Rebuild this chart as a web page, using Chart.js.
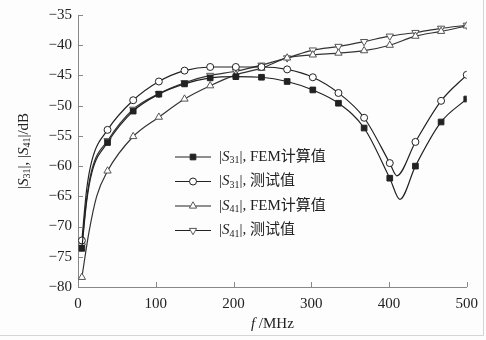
<!DOCTYPE html>
<html>
<head>
<meta charset="utf-8">
<script src="https://cdn.jsdelivr.net/npm/chart.js@4"></script>
<style>
  html, body { margin: 0; padding: 0; background: #fdfdfd; }
  #wrap { width: 486px; height: 340px; position: relative; }
</style>
</head>
<body>
<div id="wrap"><canvas id="mainChart" width="486" height="340"></canvas></div>
<script>
// === Data ===
const freqs = [5, 38, 71, 104, 137, 170, 203, 236, 269, 302, 335, 368, 401, 434, 467, 500];
const s31Fem  = [-73.6, -56.1, -50.9, -48.1, -46.4, -45.4, -45.2, -45.3, -46.0, -47.4, -49.6, -53.7, -62.0, -60.0, -52.7, -48.9];
const s31Test = [-72.3, -54.0, -49.1, -46.0, -44.2, -43.6, -43.6, -43.6, -44.0, -45.3, -47.9, -52.0, -59.5, -56.0, -49.2, -44.9];
const s41Fem  = [-78.4, -60.8, -55.1, -51.9, -48.9, -46.7, -44.9, -43.8, -42.1, -41.6, -41.3, -40.9, -40.0, -38.5, -37.7, -36.8];
const s41Test = [-73.2, -55.8, -50.6, -48.0, -46.2, -45.0, -44.3, -43.3, -42.1, -40.8, -40.2, -39.4, -38.5, -37.9, -37.2, -36.7];

// curve points between markers (no marker drawn): steep start and notch bottom
const s31FemExtra  = [{ f: 11, v: -66.0 }, { f: 18, v: -61.0 }, { f: 414, v: -65.5 }];
const s31TestExtra = [{ f: 11, v: -64.0 }, { f: 18, v: -59.0 }, { f: 410, v: -61.6 }];
const s41FemExtra  = [{ f: 14, v: -71.0 }, { f: 24, v: -65.0 }];
const s41TestExtra = [{ f: 11, v: -65.5 }, { f: 18, v: -60.5 }];

const xTicks = [0, 100, 200, 300, 400, 500];
const yTicks = [-80, -75, -70, -65, -60, -55, -50, -45, -40, -35];

const legendRows = [
  { sub: "31", text: ", FEM计算值" },
  { sub: "31", text: ", 测试值" },
  { sub: "41", text: ", FEM计算值" },
  { sub: "41", text: ", 测试值" }
];

const SERIF = '"Liberation Serif", "DejaVu Serif", "Noto Sans CJK SC", serif';
const INK = "#222";

function toPoints(values, extra) {
  const pts = freqs.map((f, i) => ({ x: f, y: values[i], marker: true }));
  extra.forEach(e => pts.push({ x: e.f, y: e.v, marker: false }));
  pts.sort((a, b) => a.x - b.x);
  return pts;
}

const p31f = toPoints(s31Fem, s31FemExtra);
const p31t = toPoints(s31Test, s31TestExtra);
const p41f = toPoints(s41Fem, s41FemExtra);
const p41t = toPoints(s41Test, s41TestExtra);

const styles = [
  { pointStyle: "rect", rotation: 0, radius: 4, fill: INK },
  { pointStyle: "circle", rotation: 0, radius: 3.5, fill: "#fff" },
  { pointStyle: "triangle", rotation: 0, radius: 4.2, fill: "#fff" },
  { pointStyle: "triangle", rotation: 180, radius: 4.2, fill: "#fff" }
];

// draw "|S31|, ..." style text with italic S and subscript digits
function drawRich(ctx, parts, x, y, size) {
  let cx = x;
  parts.forEach(p => {
    const fs = p.sub ? Math.round(size * 0.65) : size;
    ctx.font = (p.italic ? "italic " : "") + fs + "px " + SERIF;
    ctx.fillText(p.t, cx, y + (p.sub ? size * 0.25 : 0));
    cx += ctx.measureText(p.t).width;
  });
  return cx - x;
}

function richWidth(ctx, parts, size) {
  let w = 0;
  parts.forEach(p => {
    const fs = p.sub ? Math.round(size * 0.65) : size;
    ctx.font = (p.italic ? "italic " : "") + fs + "px " + SERIF;
    w += ctx.measureText(p.t).width;
  });
  return w;
}

const decorations = {
  id: "decorations",
  afterDraw(chart) {
    const ctx = chart.ctx;
    const xs = chart.scales.x, ys = chart.scales.y;
    const area = chart.chartArea;
    ctx.save();

    // inward tick marks
    ctx.strokeStyle = "#888";
    ctx.lineWidth = 1;
    ctx.beginPath();
    xTicks.forEach(v => {
      const px = Math.round(xs.getPixelForValue(v)) + 0.5;
      ctx.moveTo(px, area.bottom);
      ctx.lineTo(px, area.bottom - 5);
    });
    yTicks.forEach(v => {
      const py = Math.round(ys.getPixelForValue(v)) + 0.5;
      ctx.moveTo(area.left, py);
      ctx.lineTo(area.left + 5, py);
    });
    ctx.stroke();

    ctx.fillStyle = INK;
    ctx.textBaseline = "middle";

    // y axis title
    const yParts = [
      { t: "|" }, { t: "S", italic: true }, { t: "31", sub: true },
      { t: "|, |" }, { t: "S", italic: true }, { t: "41", sub: true }, { t: "|/dB" }
    ];
    ctx.save();
    ctx.translate(24, (area.top + area.bottom) / 2);
    ctx.rotate(-Math.PI / 2);
    const yw = richWidth(ctx, yParts, 15);
    drawRich(ctx, yParts, -yw / 2, 0, 15);
    ctx.restore();

    // x axis title
    const xParts = [{ t: "f", italic: true }, { t: " /MHz" }];
    const xw = richWidth(ctx, xParts, 15);
    drawRich(ctx, xParts, (area.left + area.right) / 2 - xw / 2, 324, 15);

    // legend
    const lx0 = 175, lx1 = 211, tx = 219;
    legendRows.forEach((row, i) => {
      const y = 157 + i * 24.5;
      ctx.strokeStyle = INK;
      ctx.lineWidth = 1.2;
      ctx.beginPath();
      ctx.moveTo(lx0, y);
      ctx.lineTo(lx1, y);
      ctx.stroke();
      const st = styles[i];
      ctx.fillStyle = st.fill;
      ctx.strokeStyle = i >= 2 ? "#555" : INK;
      ctx.lineWidth = 1;
      Chart.helpers.drawPoint(ctx, {
        pointStyle: st.pointStyle, rotation: st.rotation, radius: st.radius, borderWidth: 1
      }, (lx0 + lx1) / 2, y);
      ctx.fillStyle = INK;
      drawRich(ctx, [
        { t: "|" }, { t: "S", italic: true }, { t: row.sub, sub: true }, { t: "|" + row.text }
      ], tx, y, 15);
    });

    // light frame round the figure
    ctx.strokeStyle = "#d4d4d4";
    ctx.lineWidth = 1;
    ctx.beginPath();
    ctx.moveTo(0, 335.5);
    ctx.lineTo(483.5, 335.5);
    ctx.lineTo(483.5, 0);
    ctx.stroke();

    ctx.restore();
  }
};

const makeSet = (label, points, i) => ({
  label: label,
  data: points,
  borderColor: i >= 2 ? "#333" : INK,
  borderWidth: 1.2,
  backgroundColor: styles[i].fill,
  pointBackgroundColor: styles[i].fill,
  pointBorderColor: i >= 2 ? "#555" : INK,
  pointBorderWidth: 1,
  pointStyle: styles[i].pointStyle,
  pointRotation: styles[i].rotation,
  pointRadius: points.map(p => (p.marker ? styles[i].radius : 0)),
  cubicInterpolationMode: "monotone",
  fill: false
});

const ctx = document.getElementById("mainChart");
new Chart(ctx.getContext("2d"), {
  type: "line",
  data: {
    datasets: [
      makeSet("|S31|, FEM计算值", p31f, 0),
      makeSet("|S31|, 测试值", p31t, 1),
      makeSet("|S41|, FEM计算值", p41f, 2),
      makeSet("|S41|, 测试值", p41t, 3)
    ]
  },
  options: {
    responsive: false,
    animation: false,
    layout: { padding: { left: 0, top: 15, right: 18, bottom: 0 } },
    plugins: {
      legend: { display: false },
      tooltip: { enabled: false },
      title: { display: false }
    },
    scales: {
      x: {
        type: "linear",
        min: 0,
        max: 500,
        afterBuildTicks: scale => { scale.ticks = xTicks.map(v => ({ value: v })); },
        afterFit: scale => { scale.height = 53; },
        grid: { display: false, drawTicks: false },
        border: { display: true, color: "#888", width: 1 },
        ticks: { color: INK, padding: 8, maxRotation: 0, font: { family: SERIF, size: 15 } }
      },
      y: {
        type: "linear",
        min: -80,
        max: -35,
        afterBuildTicks: scale => { scale.ticks = yTicks.map(v => ({ value: v })); },
        afterFit: scale => { scale.width = 78; },
        grid: { display: false, drawTicks: false },
        border: { display: true, color: "#888", width: 1 },
        ticks: {
          color: INK,
          padding: 6,
          font: { family: SERIF, size: 15 },
          callback: v => String(v).replace("-", "\u2212")
        }
      }
    }
  },
  plugins: [decorations]
});
</script>
</body>
</html>
